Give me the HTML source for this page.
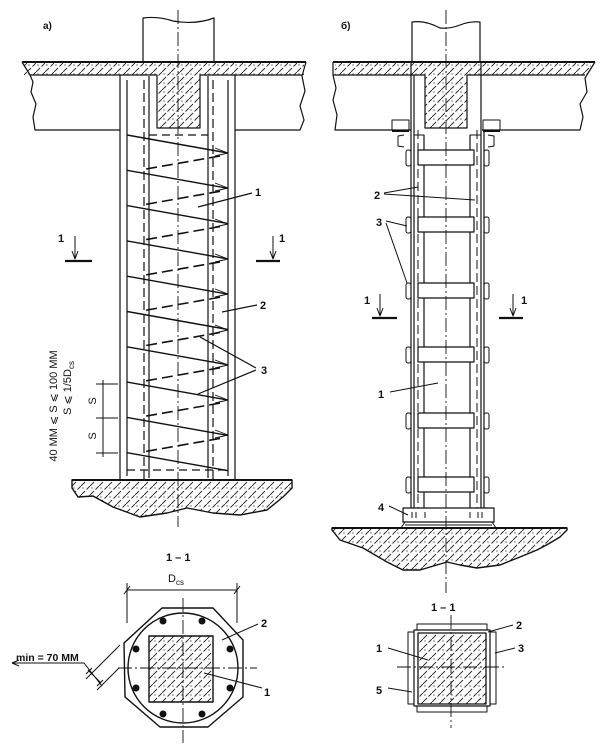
<!DOCTYPE html>
<html><head><meta charset="utf-8"><style>
html,body{margin:0;padding:0;background:#fff;}
svg{display:block;}
text{font-family:"Liberation Sans",sans-serif;fill:#111;}
</style></head><body>
<svg width="605" height="749" viewBox="0 0 605 749" xmlns="http://www.w3.org/2000/svg">
<defs>
<pattern id="h" patternUnits="userSpaceOnUse" width="9" height="9">
<path d="M0,9 L4,5 M5.5,3.5 L9,0" stroke="#222" stroke-width="0.9"/>
<circle cx="2" cy="2" r="0.6" fill="#222"/>
</pattern>
</defs>
<g fill="none" stroke="#111" stroke-width="1.2" stroke-linejoin="round">

<!-- ================= LEFT FIGURE a) ================= -->
<path d="M143,62 L143,18 Q158,16 173,21 Q195,25 214,18 L214,62"/>
<path d="M22,62 L306,62" stroke-width="2"/>
<rect x="24" y="63" width="280" height="12" fill="url(#h)" stroke="none"/>
<rect x="157" y="75" width="43" height="53" fill="url(#h)" stroke="none"/>
<path d="M22,62 L30,75 L33,82 L31,92 L36,104 L33,117 L35,130 L120,130"/>
<path d="M235,130 L300,130 L304,120 L300,106 L305,91 L302,76 L306,62"/>
<path d="M30,75 L157,75 L157,128 L200,128 L200,75 L302,75"/>
<path d="M120,75 L120,480 M235,75 L235,480"/>
<path d="M127,80 L127,476 M228,80 L228,476 M149,76 L149,478 M208,76 L208,478"/>
<path d="M144,80 L144,480 M213,80 L213,480" stroke-dasharray="9,4"/>
<path d="M149,135 L208,135 M127,470 L228,470" stroke-dasharray="8,5"/>
<path d="M127,135 L228,153 M127,170.3 L228,188.3 M127,205.6 L228,223.6 M127,240.9 L228,258.9 M127,276.2 L228,294.2 M127,311.5 L228,329.5 M127,346.8 L228,364.8 M127,382.1 L228,400.1 M127,417.4 L228,435.4 M127,452.7 L228,470.7" stroke-width="1.4"/>
<path d="M220,156 L146,169 M220,191.3 L146,204.3 M220,226.6 L146,239.6 M220,261.9 L146,274.9 M220,297.2 L146,310.2 M220,332.5 L146,345.5 M220,367.8 L146,380.8 M220,403.1 L146,416.1 M220,438.4 L146,451.4" stroke-width="1.6" stroke-dasharray="11,5"/>
<path d="M215,148 L228,153 L215,156 M215,183 L228,188 L215,191 M215,219 L228,224 L215,227 M215,254 L228,259 L215,262 M215,289 L228,294 L215,297 M215,325 L228,330 L215,333 M215,360 L228,365 L215,368 M215,395 L228,400 L215,403 M215,430 L228,435 L215,438" stroke-width="0.9"/>
<path d="M178,10 L178,527" stroke-width="0.9" stroke-dasharray="14,3,2,3"/>
<path d="M72,480 L292,480 L292,488 L283,497 L267,510 L240,515 L213,513 L187,508 L167,513 L140,517 L113,507 L93,496 L78,497 L72,488 Z" fill="url(#h)" stroke-width="1.4"/>
<path d="M72,480 L292,480" stroke-width="2"/>
<path d="M65,261 L92,261 M256,261 L280,261" stroke-width="2.2"/>
<path d="M75,236 L75,258 M273,236 L273,258" stroke-width="1"/>
<path d="M72,251 L75,259 L78,251 M270,251 L273,259 L276,251" stroke-width="1"/>
<path d="M198,207 L252,193"/>
<path d="M222,312 L257,305"/>
<path d="M200,337 L256,368 M198,394 L256,370"/>
<path d="M103,380 L103,457 M96,384 L118,384 M96,418 L118,418 M96,453 L118,453" stroke-width="1"/>

<!-- ================= LEFT SECTION 1-1 ================= -->
<path d="M127,583 L127,623 M237,583 L237,623 M127,590 L237,590" stroke-width="1"/>
<path d="M124,594 L130,586 M234,594 L240,586" stroke-width="1"/>
<path d="M162,608 L213,608 L243,640 L243,697 L208,727 L160,727 L125,697 L124,643 Z" stroke-width="1.4"/>
<circle cx="183" cy="668" r="55" stroke-width="1.4"/>
<rect x="149" y="636" width="64" height="66" fill="url(#h)" stroke-width="1.4"/>
<path d="M118,668 L257,668 M183,598 L183,743" stroke-width="0.9" stroke-dasharray="14,3,2,3"/>
<path d="M222,640 L258,624 M204,673 L262,688" stroke-width="1"/>
<g fill="#111" stroke="none">
<circle cx="163" cy="621" r="3.5"/><circle cx="202" cy="621" r="3.5"/>
<circle cx="136" cy="649" r="3.5"/><circle cx="230" cy="649" r="3.5"/>
<circle cx="136" cy="688" r="3.5"/><circle cx="230" cy="688" r="3.5"/>
<circle cx="163" cy="714" r="3.5"/><circle cx="202" cy="714" r="3.5"/>
</g>
<path d="M12,663 L84,663 L102,686" stroke-width="1"/>
<path d="M12,663 L19,660 M12,663 L19,666" stroke-width="1"/>
<path d="M86,679 L120,645 M97,690 L119,668 M88,670 L101,683" stroke-width="1"/>
<path d="M86,674 L92,668 M97,686 L103,680" stroke-width="1"/>

<!-- ================= RIGHT FIGURE б) ================= -->
<path d="M412,62 L412,22 Q425,20 440,28 Q450,29 460,25 Q470,21 480,22 L480,62"/>
<path d="M333,62 L595,62" stroke-width="2"/>
<rect x="335" y="63" width="256" height="12" fill="url(#h)" stroke="none"/>
<rect x="425" y="75" width="42" height="53" fill="url(#h)" stroke="none"/>
<path d="M333,62 L333,75 L336,88 L333,100 L337,115 L335,130 L411,130"/>
<path d="M482,130 L580,130 L583,117 L580,104 L587,92 L585,78 L595,62"/>
<path d="M333,75 L425,75 L425,128 L467,128 L467,75 L585,75"/>
<path d="M411,62 L411,508 M414,75 L414,508 M481,62 L481,508 M484,130 L484,508"/>
<path d="M424,135 L424,508 M470,135 L470,508"/>
<path d="M418,130 L418,508 M477,130 L477,508" stroke-dasharray="9,4" stroke-width="1"/>
<path d="M414,135 L424,135 L424,140 M470,140 L470,135 L481,135" stroke-width="1"/>
<rect x="392" y="120" width="17" height="10" stroke-width="1"/>
<rect x="483" y="120" width="17" height="10" stroke-width="1"/>
<path d="M392,131 L409,131 M483,131 L500,131" stroke-width="2"/>
<path d="M404,135 L398,136 L398,146 L404,147 M488,135 L494,136 L494,146 L488,147" stroke-width="1"/>
<g fill="#fff">
<rect x="418" y="150" width="56" height="15"/>
<rect x="418" y="217" width="56" height="15"/>
<rect x="418" y="283" width="56" height="15"/>
<rect x="418" y="347" width="56" height="15"/>
<rect x="418" y="413" width="56" height="15"/>
<rect x="418" y="477" width="56" height="15"/>
</g>
<g stroke-width="1">
<rect x="406" y="150" width="5" height="16" rx="2"/><rect x="484" y="150" width="5" height="16" rx="2"/>
<rect x="406" y="217" width="5" height="16" rx="2"/><rect x="484" y="217" width="5" height="16" rx="2"/>
<rect x="406" y="283" width="5" height="16" rx="2"/><rect x="484" y="283" width="5" height="16" rx="2"/>
<rect x="406" y="347" width="5" height="16" rx="2"/><rect x="484" y="347" width="5" height="16" rx="2"/>
<rect x="406" y="413" width="5" height="16" rx="2"/><rect x="484" y="413" width="5" height="16" rx="2"/>
<rect x="406" y="477" width="5" height="16" rx="2"/><rect x="484" y="477" width="5" height="16" rx="2"/>
</g>
<rect x="403" y="508" width="91" height="14" fill="#fff" stroke-width="1.2"/>
<path d="M405,522 L401,528 M492,522 L496,528 M405,525 L492,525" stroke-width="1"/>
<path d="M412,512 L412,518 M416,512 L416,518 M425,512 L425,518 M470,512 L470,518 M478,512 L478,518 M482,512 L482,518" stroke-width="1"/>
<path d="M446,10 L446,593" stroke-width="0.9" stroke-dasharray="14,3,2,3"/>
<path d="M332,528 L567,528 L567,530 L560,537 L550,543 L537,550 L520,557 L500,565 L477,568 L460,565 L447,562 L420,570 L403,570 L387,562 L363,548 L340,540 L332,530 Z" fill="url(#h)" stroke-width="1.4"/>
<path d="M332,528 L567,528" stroke-width="2"/>
<path d="M372,318 L397,318 M499,318 L523,318" stroke-width="2.2"/>
<path d="M380,294 L380,315 M513,294 L513,315" stroke-width="1"/>
<path d="M377,308 L380,316 L383,308 M510,308 L513,316 L516,308" stroke-width="1"/>
<path d="M384,193 L418,187 M384,194 L475,200" stroke-width="1"/>
<path d="M386,221 L407,226 M386,223 L407,283" stroke-width="1"/>
<path d="M390,392 L438,383" stroke-width="1"/>
<path d="M389,506 L408,515" stroke-width="1"/>

<!-- ================= RIGHT SECTION 1-1 ================= -->
<rect x="417" y="624" width="70" height="6" stroke-width="1"/>
<rect x="417" y="706" width="70" height="6" stroke-width="1"/>
<rect x="408" y="632" width="6" height="72" stroke-width="1"/>
<rect x="490" y="632" width="6" height="72" stroke-width="1"/>
<rect x="414" y="630" width="76" height="76" stroke-width="1.2"/>
<rect x="418" y="633" width="68" height="71" fill="url(#h)" stroke-width="1.3"/>
<path d="M451,615 L451,728 M397,667 L505,667" stroke-width="0.9" stroke-dasharray="14,3,2,3"/>
<path d="M388,648 L428,660 M388,688 L412,692 M513,625 L488,632 M515,648 L495,653" stroke-width="1"/>
</g>

<!-- ================= TEXT ================= -->
<g font-weight="bold" font-size="11">
<text x="43" y="29" font-size="10">a)</text>
<text x="341" y="29" font-size="10">б)</text>
<text x="255" y="196">1</text>
<text x="260" y="309">2</text>
<text x="261" y="374">3</text>
<text x="58" y="242">1</text>
<text x="279" y="242">1</text>
<text x="364" y="304">1</text>
<text x="521" y="304">1</text>
<text x="374" y="199">2</text>
<text x="376" y="226">3</text>
<text x="378" y="398">1</text>
<text x="378" y="511">4</text>
<text x="261" y="627">2</text>
<text x="264" y="696">1</text>
<text x="376" y="652">1</text>
<text x="376" y="694">5</text>
<text x="516" y="629">2</text>
<text x="518" y="652">3</text>
<text x="166" y="561">1 – 1</text>
<text x="431" y="611">1 – 1</text>
</g>
<g font-size="11">
<text x="168" y="582">D<tspan font-size="8" dy="3">cs</tspan></text>
<text x="16" y="661" font-weight="bold" font-size="10.5">min = 70 MM</text>
<text transform="translate(57,406) rotate(-90)" text-anchor="middle" font-size="11">40 MM ⩽ S ⩽ 100 MM</text>
<text transform="translate(71,388) rotate(-90)" text-anchor="middle" font-size="11">S ⩽ 1/5D<tspan font-size="8" dy="3">cs</tspan></text>
<text transform="translate(96,401) rotate(-90)" text-anchor="middle" font-size="11">S</text>
<text transform="translate(96,436) rotate(-90)" text-anchor="middle" font-size="11">S</text>
</g>
</svg>
</body></html>
